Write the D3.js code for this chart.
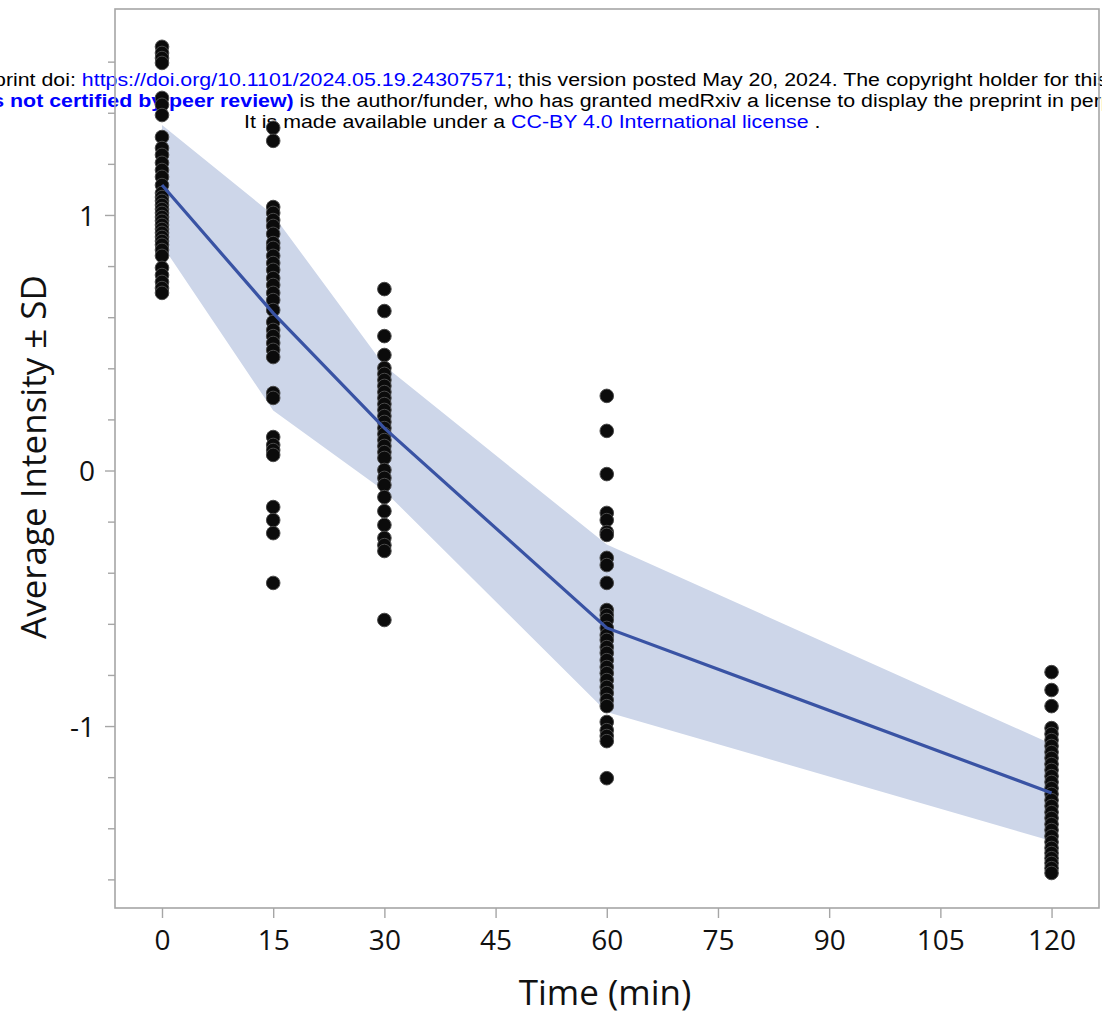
<!DOCTYPE html>
<html>
<head>
<meta charset="utf-8">
<script src="https://cdn.jsdelivr.net/npm/d3@7"></script>
<style>
  body { margin: 0; background: #fff; }
  svg { display: block; }
</style>
</head>
<body>
<svg width="1102" height="1019"></svg>
<script>
// time points (min) and the mean / +-SD band
var times = [0, 15, 30, 60, 120];
var meanVals = [1.117, 0.616, 0.166, -0.616, -1.262];
var upperVals = [1.352, 1.00, 0.41, -0.29, -1.07];
var lowerVals = [0.882, 0.235, -0.08, -0.945, -1.45];

// individual observations per time point
var pts0 = [1.658, 1.634, 1.614, 1.595, 1.458, 1.431, 1.391, 1.305, 1.262, 1.235, 1.204, 1.176,
  1.149, 1.117, 1.086, 1.070, 1.055, 1.039, 1.023, 1.008, 0.992, 0.977, 0.961, 0.945, 0.930,
  0.914, 0.898, 0.883, 0.863, 0.840, 0.793, 0.765, 0.738, 0.714, 0.695];
var pts15 = [1.341, 1.290, 1.031, 1.008, 0.980, 0.957, 0.926, 0.890, 0.871, 0.840, 0.812, 0.785,
  0.753, 0.726, 0.695, 0.667, 0.628, 0.581, 0.550, 0.526, 0.499, 0.472, 0.444, 0.303, 0.284,
  0.131, 0.100, 0.080, 0.061, -0.143, -0.194, -0.245, -0.440];
var pts30 = [0.710, 0.624, 0.526, 0.452, 0.401, 0.378, 0.354, 0.331, 0.307, 0.284, 0.260, 0.237,
  0.213, 0.190, 0.166, 0.143, 0.119, 0.096, 0.072, 0.049, 0.002, -0.029, -0.057, -0.104, -0.159,
  -0.213, -0.264, -0.292, -0.315, -0.585];
var pts60 = [0.292, 0.155, -0.014, -0.166, -0.194, -0.241, -0.252, -0.342, -0.370, -0.440, -0.546,
  -0.566, -0.585, -0.616, -0.644, -0.663, -0.691, -0.714, -0.742, -0.769, -0.793, -0.820, -0.847,
  -0.871, -0.898, -0.922, -0.984, -1.016, -1.039, -1.059, -1.204];
var pts120 = [-0.789, -0.859, -0.922, -1.008, -1.031, -1.055, -1.078, -1.102, -1.125, -1.149,
  -1.172, -1.196, -1.219, -1.243, -1.266, -1.290, -1.313, -1.337, -1.360, -1.384, -1.407, -1.431,
  -1.454, -1.477, -1.497, -1.517, -1.536, -1.556, -1.575];
var pointSets = [pts0, pts15, pts30, pts60, pts120];

var xTicks = [0, 15, 30, 45, 60, 75, 90, 105, 120];
var yTicks = [-1, 0, 1];
var yMinorTicks = [-1.6, -1.4, -1.2, -0.8, -0.6, -0.4, -0.2, 0.2, 0.4, 0.6, 0.8, 1.2, 1.4, 1.6];

var svg = d3.select('svg');
var frame = {l: 115, r: 1099, t: 9, b: 908};

var xScale = d3.scaleLinear().domain([-6.34, 126.4]).range([frame.l, frame.r]);
var yScale = d3.scaleLinear().domain([-1.712, 1.806]).range([frame.b, frame.t]);

// medRxiv watermark header (drawn first, plot sits on top)
var head = svg.append('g').attr('font-family', 'Liberation Sans, Arial, sans-serif')
  .attr('font-size', 19);

function headLine(y, parts) {
  var t = head.append('text').attr('transform', 'translate(0,' + y + ')');
  parts.forEach(function(p) {
    t.append('tspan').text(p.s)
      .attr('fill', p.blue ? '#0000ff' : '#000')
      .attr('font-weight', p.bold ? 'bold' : null);
  });
  return t;
}

var l1 = headLine(86, [
  {s: 'medRxiv preprint doi: '},
  {s: 'https://doi.org/10.1101/2024.05.19.24307571', blue: true},
  {s: '; this version posted May 20, 2024. The copyright holder for this preprint'}
]);
var l2 = headLine(107, [
  {s: '(which was not certified by peer review)', blue: true, bold: true},
  {s: ' is the author/funder, who has granted medRxiv a license to display the preprint in perpetuity.'}
]);
var l3 = headLine(128, [
  {s: 'It is made available under a '},
  {s: 'CC-BY 4.0 International license', blue: true},
  {s: ' .'}
]);

// the header text is a bit wider than plain 19px, stretch it to match
var linkW = l1.selectAll('tspan').nodes()[1].getComputedTextLength();
var sx = 425 / linkW;
var pre1 = l1.selectAll('tspan').nodes()[0].getComputedTextLength();
var bold2 = l2.selectAll('tspan').nodes()[0].getComputedTextLength();
l1.attr('transform', 'translate(0,86) scale(' + sx + ',1)').attr('x', 82 / sx - pre1);
l2.attr('transform', 'translate(0,107) scale(' + sx + ',1)').attr('x', 294 / sx - bold2);
l3.attr('transform', 'translate(0,128) scale(' + sx + ',1)').attr('x', 244 / sx);

// SD band
var bandData = times.map(function(t, i) { return {t: t, lo: lowerVals[i], hi: upperVals[i], m: meanVals[i]}; });
var area = d3.area()
  .x(function(d) { return xScale(d.t); })
  .y0(function(d) { return yScale(d.lo); })
  .y1(function(d) { return yScale(d.hi); });
svg.append('path').datum(bandData)
  .attr('d', area)
  .attr('fill', '#cdd6e9');

// points
var ptsG = svg.append('g');
pointSets.forEach(function(vals, i) {
  ptsG.selectAll(null)
    .data(vals)
    .enter()
    .append('circle')
    .attr('cx', xScale(times[i]))
    .attr('cy', function(d) { return yScale(d); })
    .attr('r', 6.8)
    .attr('fill', '#0b0b0b')
    .attr('stroke', '#4a4a4a')
    .attr('stroke-width', 1);
});

// mean line
var line = d3.line()
  .x(function(d) { return xScale(d.t); })
  .y(function(d) { return yScale(d.m); });
svg.append('path').datum(bandData)
  .attr('d', line)
  .attr('fill', 'none')
  .attr('stroke', '#3953a4')
  .attr('stroke-width', 3.2);

// frame
svg.append('rect')
  .attr('x', frame.l).attr('y', frame.t)
  .attr('width', frame.r - frame.l).attr('height', frame.b - frame.t)
  .attr('fill', 'none').attr('stroke', '#a6a6a6').attr('stroke-width', 1.6);

// axes
var xAxis = d3.axisBottom(xScale).tickValues(xTicks).tickSize(10).tickPadding(12).tickFormat(String);
var yAxis = d3.axisLeft(yScale).tickValues(yTicks).tickSize(10).tickPadding(10).tickFormat(String);
var yMinor = d3.axisLeft(yScale).tickValues(yMinorTicks).tickSize(7).tickFormat('');

var gx = svg.append('g').attr('transform', 'translate(0,' + frame.b + ')').call(xAxis);
var gy = svg.append('g').attr('transform', 'translate(' + frame.l + ',0)').call(yAxis);
var gm = svg.append('g').attr('transform', 'translate(' + frame.l + ',0)').call(yMinor);

[gx, gy, gm].forEach(function(g) {
  g.select('.domain').remove();
  g.selectAll('.tick line').attr('stroke', '#a6a6a6').attr('stroke-width', 1.4);
  g.selectAll('text').attr('fill', '#111')
    .attr('font-family', 'Open Sans, Noto Sans, sans-serif').attr('font-size', 28);
});
gy.selectAll('text').attr('dy', '0.36em');

// axis titles
svg.append('text')
  .attr('x', 605).attr('y', 1005)
  .attr('text-anchor', 'middle')
  .attr('font-family', 'Open Sans, Noto Sans, sans-serif').attr('font-size', 35)
  .attr('fill', '#111')
  .text('Time (min)');

svg.append('text')
  .attr('transform', 'translate(46,457) rotate(-90)')
  .attr('text-anchor', 'middle')
  .attr('font-family', 'Open Sans, Noto Sans, sans-serif').attr('font-size', 35)
  .attr('fill', '#111')
  .text('Average Intensity ± SD');
</script>
</body>
</html>
